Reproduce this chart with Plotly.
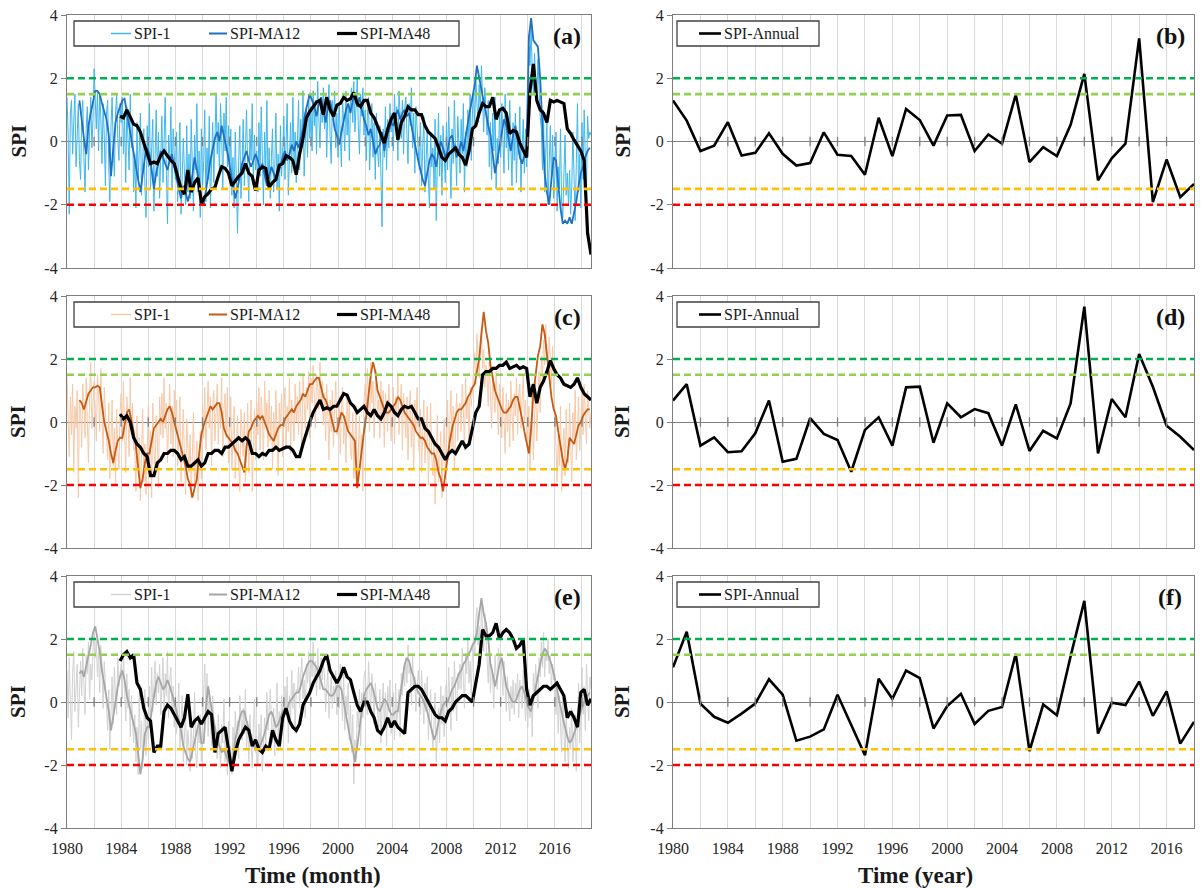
import pandas as pd
import plotly.graph_objects as go

# ---------------------------------------------------------------- data
years = list(range(1980, 2019))

# Annual SPI, one value per year 1980-2018
spi_annual_b = [1.30, 0.66, -0.30, -0.13, 0.61, -0.44, -0.36, 0.26, -0.39, -0.76,
                -0.68, 0.29, -0.42, -0.46, -1.05, 0.75, -0.46, 1.03, 0.68, -0.13,
                0.82, 0.84, -0.30, 0.22, -0.07, 1.48, -0.65, -0.18, -0.46, 0.53,
                2.14, -1.23, -0.53, -0.07, 3.26, -1.92, -0.57, -1.76, -1.34]
spi_annual_d = [0.68, 1.20, -0.75, -0.49, -0.96, -0.93, -0.36, 0.68, -1.26, -1.17,
                0.12, -0.38, -0.57, -1.58, -0.25, 0.15, -0.75, 1.10, 1.12, -0.66,
                0.59, 0.15, 0.41, 0.28, -0.75, 0.56, -0.92, -0.28, -0.52, 0.59,
                3.66, -1.00, 0.73, 0.15, 2.16, 1.12, -0.12, -0.47, -0.89]
spi_annual_f = [1.10, 2.23, -0.05, -0.47, -0.66, -0.37, -0.05, 0.72, 0.23, -1.23,
                -1.10, -0.87, 0.23, -0.74, -1.69, 0.74, 0.10, 1.00, 0.76, -0.84,
                -0.13, 0.26, -0.70, -0.28, -0.16, 1.53, -1.56, -0.08, -0.42, 1.45,
                3.21, -1.00, -0.02, -0.10, 0.65, -0.44, 0.34, -1.32, -0.63]

# Monthly SPI-1, Jan 1980 - Sep 2018 (one row per year)
spi1_a = [
    1.4, 0.2, -2.3, 0.9, 1.3, -0.4, 0.6, 1.5, -0.8, 0.3, 1.2, -0.6,
    -1.2, 0.8, 1.3, -0.5, -1.6, 0.4, 1.1, -0.9, 0.5, 1.4, -0.2, 0.7,
    2.3, 1.1, 0.4, 1.6, -0.3, 1.5, 0.8, -0.7, 1.2, 0.2, -1.4, 0.9,
    1.3, -0.8, -1.9, 0.5, 1.4, -0.2, -1.1, 0.9, 1.5, 0.1, -0.6, 1.2,
    0.6, 1.4, -0.4, 0.8, -1.3, 1.1, 0.3, -0.9, 1.5, -0.2, 0.7, -1.6,
    -0.4, -2.1, 0.6, -1.2, -0.3, 0.9, -1.7, -0.6, 0.4, -1.4, -2.4, 0.5,
    -0.8, 1.2, -1.5, -0.2, 0.7, -2.2, -0.4, 1.0, -1.1, 0.3, -1.8, -0.5,
    0.8, -1.3, -0.3, 1.4, -0.9, -2.6, 0.2, -0.7, 1.1, -1.5, 0.4, -0.6,
    -1.2, 0.3, -1.9, -0.8, 0.6, -2.3, -1.4, 0.1, -1.0, -2.0, 0.5, -1.6,
    -0.4, -1.8, 0.7, -1.1, -2.2, 0.2, -0.9, 1.2, -1.6, -0.3, -2.4, 0.4,
    -1.5, -0.6, 1.0, -1.9, -0.2, -1.2, 0.8, -2.1, -0.7, 0.6, -1.3, -0.1,
    1.5, -0.4, 0.6, -1.0, 1.2, 0.2, -1.5, 0.9, -0.3, 1.4, -0.8, 0.5,
    -1.1, 0.4, -1.7, -0.5, -2.1, 0.3, -1.2, -2.9, -0.6, 0.5, -1.8, -0.9,
    0.7, -1.4, -0.3, 1.0, -0.8, -1.9, 0.4, -0.6, 1.2, -1.3, 0.2, -0.9,
    -0.3, -1.6, 0.6, -1.1, 1.1, -0.7, -2.0, 0.3, -0.9, 1.3, -1.4, -0.2,
    -1.8, -0.5, 0.4, -1.6, -0.9, 0.9, -1.5, -0.4, -2.2, 0.5, -1.1, -0.3,
    0.8, -1.2, -0.2, 1.2, -1.7, -0.4, 0.6, -1.0, 1.4, -0.6, 0.3, -1.3,
    0.2, 1.3, -0.9, 0.7, -0.2, 1.6, -1.1, 0.4, 1.0, -0.5, 1.5, 0.1,
    1.1, -0.3, 1.6, 0.5, 1.3, -0.4, 1.9, 0.8, -0.2, 1.4, 0.6, 1.7,
    0.4, 1.5, -0.5, 1.0, 1.8, 0.2, -0.7, 1.3, 0.6, 1.6, -0.2, 0.9,
    -0.5, 1.2, 0.3, -0.8, 1.4, 0.7, -0.3, 1.6, 0.2, 1.1, -0.6, 1.3,
    1.7, 0.6, 1.9, 0.3, 1.2, 2.0, 0.5, -0.4, 1.5, 0.8, 1.7, 0.2,
    1.0, -0.6, 0.8, 1.4, -0.9, 0.3, 1.2, -0.5, 0.6, -1.2, 0.9, -0.3,
    -0.8, 0.5, -1.4, -2.7, 0.4, -0.5, 1.1, -0.9, 0.7, -0.2, 1.2, 0.3,
    0.9, -0.3, 1.5, 0.4, 1.1, -0.6, 1.6, 0.8, 0.1, 1.3, -0.4, 1.0,
    1.4, 0.2, -0.7, 1.2, 0.5, 1.7, -0.2, 0.9, -1.0, 1.1, 0.4, -0.5,
    -0.9, 0.6, -1.4, -0.2, 0.8, -1.6, -0.5, 0.4, -1.2, -2.1, 0.3, -0.8,
    -0.2, -1.5, 0.7, -2.5, -0.6, 0.9, -1.1, 0.2, -1.7, 0.5, -0.4, -1.3,
    0.6, -0.9, 1.1, -0.3, -1.8, 0.4, -0.7, 1.3, -0.2, -1.4, 0.8, -0.5,
    -1.0, 0.7, -0.4, 1.2, -1.6, 0.3, -0.8, 1.0, -0.1, 1.5, -0.6, 0.9,
    1.6, 0.4, 2.1, 1.2, 0.6, 1.8, 0.9, 2.4, 1.1, 0.3, 1.7, 0.8,
    0.2, 1.3, -0.8, 0.6, -1.2, 0.9, -0.3, 1.4, -1.5, 0.1, -0.7, 1.0,
    -0.5, 1.2, 0.4, -1.0, 1.5, -0.2, 0.8, -0.9, 1.3, 0.3, -1.4, 0.6,
    -0.6, 0.9, -1.3, 0.2, -0.4, 1.1, -1.6, -0.2, 0.7, -1.0, 0.4, -0.8,
    1.8, 3.0, 2.4, 3.6, 2.2, 1.5, 2.8, 2.0, 1.2, 2.6, 1.6, 0.8,
    0.4, -0.9, 1.0, -1.6, -0.3, 0.6, -2.0, -0.7, 0.5, -1.3, 0.2, -1.8,
    -1.1, 0.3, -2.2, -0.8, -1.5, 0.4, -1.9, -2.4, -0.6, 0.2, -1.7, -1.0,
    -2.0, -0.9, -2.3, -1.4, 0.3, -1.8, -2.5, -0.7, 1.2, -1.6, -0.4, -2.1,
    0.6, -1.2, 1.0, -0.5, -1.6, 0.8, 0.1, 0.3, 0.2,
]
# SPI-MA12, every second month from Dec 1980
ma12_a = [
    1.3,
    0.6, 0.1, -0.4, 0.5, 0.9, 1.2,
    1.6, 1.6, 1.5, 1.2, 0.9, 0.7,
    0.2, -1.1, -0.2, 0.6, 0.9, 1.1,
    1.3, 1.35, 0.9, 0.5, 0.1, -0.3,
    -0.8, -1.2, -1.6, -1.1, -0.5, -0.2,
    -0.4, -0.9, -1.5, -1.0, -0.6, -0.3,
    -0.5, -0.7, -0.9, -0.6, -0.4, -0.8,
    -1.2, -1.5, -1.8, -1.4, -1.6, -1.9,
    -1.6, -1.0, -0.5, -0.9, -1.4, -1.8,
    -2.0, -1.6, -1.1, -0.6, -0.2, 0.1,
    0.3, 0.0, 0.5, 0.2, -0.2, -0.5,
    -1.0, -1.4, -1.8, -1.5, -1.1, -0.7,
    -0.5, -0.3, -0.6, -0.8, -0.6, -0.4,
    -0.6, -0.9, -0.7, -1.0, -1.4, -1.1,
    -0.8, -1.0, -1.2, -1.0, -0.7, -0.5,
    -0.3, -0.6, -0.4, -0.1, -0.3, 0.0,
    -0.2, 0.1, 0.4, 0.9, 1.2, 1.5,
    1.3, 1.1, 0.8, 1.2, 1.4, 1.0,
    0.6, 1.1, 1.3, 0.9, 0.4, 0.2,
    -0.1, 0.3, 0.7, 1.0, 1.2, 0.9,
    1.3, 1.5, 1.1, 1.4, 1.0, 0.7,
    0.5, 0.2, 0.4, 0.0, -0.4, -0.2,
    -0.1, 0.3, -0.3, 0.1, 0.4, 0.6,
    0.5, 0.8, 1.0, 0.7, 0.9, 1.0,
    0.8, 0.9, 0.5, 0.1, -0.3, -0.6,
    -0.9, -1.2, -1.4, -1.0, -0.6, -0.4,
    -0.5, -0.8, -0.3, 0.0, -0.2, -0.5,
    -0.3, 0.1, 0.2, -0.2, -0.5, -0.3,
    0.0, -0.3, 0.2, 0.6, 1.0, 1.4,
    1.8, 2.4, 2.0, 1.6, 1.3, 0.9,
    0.5, 0.2, -0.4, -1.0, -0.6, -0.2,
    0.3, 0.7, 0.5, 0.1, -0.3, 0.2,
    0.5, 0.0, -0.5, -0.7, -0.4, -0.2,
    3.3, 3.9, 3.2, 3.1, 3.0, 2.0,
    0.5, -1.0, -1.6, -2.0, -1.2, -0.5,
    -0.6, -1.4, -2.1, -2.6, -2.5, -2.6,
    -2.4, -2.6, -2.3, -1.9, -1.4, -1.0,
    -0.8, -0.5, -0.3, -0.2,
]
# SPI-MA48, quarterly from Dec 1983
ma48_a = [
    0.8,
    0.75, 1.0, 0.8, 0.55,
    0.5, 0.3, -0.05, -0.4,
    -0.7, -0.65, -0.7, -0.45,
    -0.3, -0.45, -0.6, -0.7,
    -1.1, -1.5, -1.66, -0.9,
    -1.6, -1.3, -1.15, -1.95,
    -1.75, -1.65, -1.5, -1.45,
    -1.1, -0.8, -0.85, -1.0,
    -1.4, -1.25, -1.1, -1.0,
    -0.7, -1.0, -1.1, -1.55,
    -0.9, -0.8, -0.85, -1.45,
    -1.3, -1.2, -0.75, -0.7,
    -0.45, -0.5, -0.6, -1.05,
    -0.4, 0.1, 0.75, 0.95,
    1.1, 1.25, 1.3, 0.85,
    1.4, 1.0, 0.8, 1.15,
    1.2, 1.4, 1.3, 1.35,
    1.55, 1.2, 1.1, 1.3,
    1.3, 0.9, 0.75, 0.5,
    0.2, -0.05, 0.4, 0.7,
    0.9, 0.05, 0.6, 0.8,
    1.1, 1.0, 1.0, 0.85,
    0.85, 0.5, 0.3, 0.2,
    0.1, -0.2, -0.5, -0.6,
    -0.4, -0.3, -0.2, -0.4,
    -0.5, -0.75, -0.3, 0.4,
    0.5, 0.9, 1.2, 1.1,
    1.1, 1.4, 0.7, 1.0,
    1.05, 0.9, 0.25, 0.35,
    0.3, -0.05, -0.3, -0.5,
    1.6, 2.45, 1.3, 1.0,
    0.9, 0.6, 1.3, 1.25,
    1.3, 1.25, 1.2, 0.4,
    0.25, 0.05, -0.15, -0.3,
    -0.6, -2.9, -3.57,
]

spi1_c = [
    1.5, 0.2, -1.1, 0.8, -0.4, 1.2, -1.6, 0.5, -0.2, 1.0, -2.4, 0.7,
    0.3, -0.8, 1.2, 0.6, -0.5, 1.4, 0.2, -1.3, 0.9, 1.9, -0.2, 0.8,
    1.3, 0.4, -0.6, 1.5, 0.9, -0.3, 1.7, 0.2, -1.0, 1.1, 0.5, -0.4,
    -1.2, 0.6, -1.8, -0.5, 0.7, -1.4, -0.2, -2.0, 0.4, -0.9, -1.5, 0.3,
    0.9, -0.6, 1.3, -0.3, -1.6, 0.8, 0.1, -1.1, 1.4, -0.4, 0.6, -0.9,
    -0.8, -2.2, 0.2, -1.5, -0.5, -2.5, -1.0, 0.4, -1.9, -0.7, -2.3, -0.3,
    0.5, -1.2, -0.3, -2.4, 0.6, -0.9, -1.6, 0.2, -0.5, -2.1, 0.8, -0.4,
    0.9, -0.5, 1.4, -0.2, 0.6, -1.3, 0.3, 1.2, -0.7, 0.5, -1.1, 1.0,
    -0.3, 0.7, -1.4, -0.2, 0.8, -1.9, -0.6, 0.4, -1.2, -2.3, 0.1, -0.8,
    -1.6, -0.4, -2.4, -1.1, 0.3, -2.0, -1.5, -0.6, -2.5, -1.2, -0.3, -1.8,
    0.6, -0.5, 1.1, -0.9, 0.4, 1.3, -0.2, 0.8, -1.4, 0.5, 1.0, -0.6,
    0.3, 1.2, -0.7, 0.6, -0.2, 1.4, -1.1, 0.4, 0.9, -0.5, 1.1, -1.3,
    -0.4, 0.8, -1.5, -0.6, 0.5, -1.8, -0.9, 0.2, -1.3, -2.2, 0.4, -0.7,
    -1.1, 0.3, -1.9, -0.8, 0.6, -1.6, -0.3, 0.7, -2.2, -0.5, 0.4, -1.2,
    0.6, -0.4, 1.1, -0.9, 0.8, 0.2, -1.2, 1.3, -0.1, 0.6, -0.8, 1.0,
    -0.6, 0.5, -1.5, 0.3, -0.9, 1.0, -0.4, -1.7, 0.6, -0.2, 0.9, -1.1,
    0.4, 1.1, -0.8, 0.5, -0.3, 1.4, -1.0, 0.7, 0.2, -0.6, 1.2, 0.0,
    0.8, -0.4, 1.3, 0.3, -0.9, 1.5, 0.6, -0.2, 1.1, 0.4, 1.6, -0.5,
    1.4, 0.6, 1.8, 0.9, -0.2, 1.5, 1.1, 0.4, 1.9, 0.7, 1.3, -0.1,
    0.9, -0.6, 1.2, 0.3, -1.2, 0.7, -0.3, 1.0, -0.8, 0.5, 1.3, -0.4,
    -0.3, 0.8, -1.0, 0.4, 1.1, -0.7, 0.2, -1.3, 0.9, -0.2, 0.6, -0.9,
    -1.2, 0.3, -1.8, -0.6, 0.5, -2.1, -1.0, 0.2, -1.5, -0.4, -2.2, 0.6,
    1.2, 0.4, 1.7, 0.8, -0.3, 1.9, 0.6, 1.3, -0.5, 1.0, 1.6, 0.2,
    0.7, -0.5, 1.3, 0.2, 1.0, -0.8, 0.9, 0.4, -0.3, 1.2, 0.5, -0.6,
    0.4, 1.1, -0.7, 0.8, 0.2, 1.5, -0.4, 0.6, 1.2, -0.9, 0.9, 0.3,
    -0.5, 0.8, -1.2, 0.4, 1.0, -0.8, 0.3, -1.5, 0.7, -0.2, 1.1, -0.6,
    -1.0, 0.4, -1.6, -0.3, 0.7, -1.3, -0.6, 0.5, -2.0, -0.2, 0.6, -1.1,
    -1.7, -0.6, -2.6, -1.1, 0.2, -1.9, -1.4, -0.3, -2.4, -1.0, 0.1, -1.6,
    -0.4, 0.7, -1.2, 0.3, 1.0, -0.8, 0.5, -1.5, 0.2, 0.9, -0.6, 0.4,
    0.6, -0.3, 1.2, 0.4, -0.9, 1.4, 0.1, 0.8, -0.5, 1.1, 0.5, 1.3,
    1.6, 2.2, 1.2, 2.8, 1.9, 1.4, 2.5, 3.0, 1.7, 2.3, 1.1, 1.8,
    1.4, 0.5, 1.9, 0.8, -0.2, 1.5, 1.0, 0.3, 1.6, 0.7, -0.4, 1.2,
    0.6, -0.5, 1.1, 0.2, -1.0, 0.9, -0.3, 0.7, -0.8, 1.3, 0.1, -0.6,
    0.9, 0.2, 1.4, -0.4, 0.8, 1.2, -0.2, 0.6, 1.5, 0.0, 0.7, -0.5,
    -0.8, 0.5, -1.5, -0.3, 0.9, -1.2, 0.4, 1.3, -0.6, 0.8, 1.6, 0.3,
    2.1, 1.4, 2.6, 1.8, 3.1, 2.2, 1.5, 2.7, 1.9, 1.2, 2.4, 0.8,
    0.3, -0.8, -1.9, -0.4, -1.4, 0.5, -2.2, -1.0, -0.2, -1.7, 0.4, -0.9,
    -1.3, 0.6, -0.8, -1.9, 0.3, -0.5, 1.0, -1.2, -0.3, 0.8, -0.9, 0.4,
    0.9, -0.4, 1.2, 0.2, -0.7, 1.0, 0.5, -0.2, 0.3,
]
ma12_c = [
    0.7,
    0.6, 0.4, 0.7, 0.9, 1.0, 1.1,
    1.1, 1.15, 1.1, 0.5, 0.0, -0.3,
    -0.6, -1.0, -1.3, -0.9, -0.6, -0.5,
    -0.5, -0.1, 0.3, 0.4, 0.1, -0.3,
    -0.8, -1.4, -2.1, -1.8, -1.3, -1.0,
    -1.0, -0.6, -0.2, -0.1, 0.0, 0.1,
    0.0, 0.2, 0.4, 0.5, 0.3, 0.0,
    -0.3, -0.6, -0.9, -1.1, -1.4, -1.8,
    -2.0, -2.4, -2.1, -1.8, -1.0, -0.4,
    -0.1, 0.1, 0.3, 0.5, 0.4, 0.5,
    0.6, 0.6, 0.3, -0.2, -0.4, -0.5,
    -0.6, -0.7, -0.9, -1.0, -1.2, -1.4,
    -1.6, -0.8, -0.3, -0.2, 0.0, 0.1,
    0.2, 0.1, 0.2, 0.0, -0.2, -0.4,
    -0.5, -0.6, -0.4, -0.2, -0.1, -0.1,
    0.1, 0.2, 0.3, 0.4, 0.3, 0.5,
    0.6, 0.7, 0.9, 0.8, 1.0, 1.2,
    1.2, 1.3, 1.4, 1.4, 1.1, 0.8,
    0.7, 0.5, 0.3, 0.0, -0.3, -0.3,
    0.0, 0.3, 0.2, -0.1, -0.3, -0.4,
    -0.5, -0.6, -2.1, -1.5, -0.8, -0.3,
    0.2, 0.8, 1.5, 1.9, 1.6, 1.0,
    0.8, 0.6, 0.4, 0.3, 0.3, 0.4,
    0.5, 0.6, 0.8, 0.7, 0.5, 0.3,
    0.2, 0.1, 0.0, -0.1, -0.3, -0.4,
    -0.5, -0.5, -0.6, -0.8, -0.9, -1.0,
    -1.0, -1.2, -1.6, -1.8, -2.2, -1.6,
    -1.0, -0.6, -0.2, 0.1, 0.3, 0.4,
    0.4, 0.5, 0.6, 0.8, 0.9, 1.1,
    1.2, 1.6, 2.0, 2.8, 3.5, 2.9,
    2.5, 1.8, 1.4, 1.0, 0.8, 0.6,
    0.4, 0.3, 0.3, 0.4, 0.5, 0.7,
    0.8, 0.8, 0.5, 0.1, -0.3, -0.7,
    -1.0, -0.2, 0.9, 1.5, 2.1, 2.4,
    3.1, 2.8, 2.1, 1.4, 0.8, 0.4,
    0.2, -0.3, -0.8, -1.2, -1.5, -1.2,
    -0.5, -0.6, -0.7, -0.4, -0.1, 0.0,
    0.2, 0.3, 0.4, 0.4,
]
ma48_c = [
    0.25,
    0.1, 0.2, 0.0, -0.5,
    -0.7, -0.8, -1.0, -1.1,
    -1.7, -1.7, -1.3, -1.2,
    -1.0, -1.0, -0.9, -0.9,
    -1.0, -1.2, -1.1, -1.4,
    -1.4, -1.3, -1.2, -1.4,
    -1.3, -1.0, -1.0, -0.9,
    -0.9, -1.0, -0.8, -0.8,
    -0.7, -0.6, -0.5, -0.6,
    -0.5, -0.6, -1.0, -1.0,
    -1.1, -1.0, -1.05, -0.9,
    -0.9, -0.8, -0.9, -0.85,
    -0.8, -0.8, -0.9, -1.1,
    -1.1, -0.7, -0.3, 0.0,
    0.3, 0.5, 0.7, 0.4,
    0.45, 0.4, 0.5, 0.5,
    0.7, 0.9, 0.85, 0.6,
    0.5, 0.3, 0.4, 0.5,
    0.3, 0.2, 0.4, 0.2,
    0.1, 0.3, 0.6, 0.5,
    0.3, 0.2, 0.4, 0.5,
    0.45, 0.5, 0.3, 0.1,
    0.1, -0.2, -0.3, -0.5,
    -0.7, -0.8, -1.0, -1.2,
    -1.0, -0.9, -1.0, -0.8,
    -0.6, -0.8, -0.7, -0.2,
    0.3, 0.5, 1.5, 1.6,
    1.6, 1.7, 1.7, 1.8,
    1.8, 1.9, 1.7, 1.75,
    1.8, 1.7, 1.75, 1.7,
    0.8, 1.2, 0.6, 1.1,
    1.3, 1.6, 1.95, 1.7,
    1.5, 1.4, 1.2, 1.15,
    1.1, 1.2, 1.4, 1.1,
    0.9, 0.8, 0.7,
]

spi1_e = [
    1.0, -0.5, 1.4, 0.3, -1.2, 0.9, 1.6, -0.3, 0.8, 1.2, -0.8, 0.6,
    1.3, 0.2, 1.7, 0.6, -0.4, 1.5, 0.9, 1.9, 0.1, 1.2, 0.7, 1.6,
    2.2, 1.4, 2.0, 0.8, 1.6, 0.3, 1.8, 1.1, -0.2, 1.3, 0.6, -0.5,
    -0.9, 0.4, -1.5, -0.3, 0.8, -0.7, 1.1, 0.2, -0.4, 1.4, 0.5, 0.9,
    1.2, 0.1, 1.5, 0.6, -0.6, 0.9, -0.2, 0.4, -1.1, 0.2, -0.5, -1.3,
    -0.4, -1.9, -0.8, -2.3, 0.3, -1.5, -0.6, -2.1, -1.0, 0.4, -1.7, -0.5,
    -1.2, 0.5, -0.7, 1.1, -0.3, 0.8, 1.3, -0.1, 0.9, 0.3, 1.2, -0.4,
    0.6, 1.4, -0.3, 0.9, 0.2, 1.6, -0.5, 0.7, 1.1, -0.2, 0.5, -0.8,
    0.3, -1.0, -0.4, 0.6, -1.5, -0.7, 0.2, -1.9, -1.1, -0.3, -2.0, -0.9,
    -1.4, -2.2, -0.6, -1.8, -1.0, 0.3, -1.6, -2.1, -0.8, -1.3, -0.4, -1.9,
    -0.7, 0.6, 1.2, -0.3, 0.9, -1.1, 0.4, -0.6, -1.4, 0.2, -0.9, -1.6,
    -1.0, -1.8, -0.4, -1.5, -2.1, -0.7, -1.3, 0.1, -1.9, -1.1, -2.3, -0.6,
    -2.0, -1.4, -2.3, -0.8, -1.6, -0.3, -1.1, -0.6, -1.8, 0.2, -0.7, -1.2,
    -0.2, -1.0, 0.4, -1.5, -0.6, -1.9, -0.4, -1.2, -2.1, -0.8, 0.1, -1.6,
    -1.3, -2.0, -0.7, -1.6, -0.4, -2.2, -1.1, -0.5, -1.4, 0.3, -0.9, -0.2,
    0.4, -0.6, -1.3, -0.2, -1.7, -0.8, 0.6, -1.2, -0.3, -1.5, 0.2, -0.5,
    -0.9, 0.5, -0.4, 0.8, -1.3, 0.2, -0.6, 1.0, -0.2, 0.6, -1.0, 0.4,
    0.3, 1.1, -0.2, 0.9, 1.4, 0.1, 0.7, -0.5, 1.2, 0.6, 1.6, 0.2,
    1.5, 0.8, 1.9, 0.6, 1.3, 0.2, 1.7, 1.0, 0.4, 1.4, 0.7, 1.2,
    0.9, -0.3, 0.6, 1.1, -0.5, 0.4, 0.8, -0.2, 0.5, 0.0, 1.0, -0.4,
    0.7, -0.2, 1.2, 0.3, -0.6, 0.9, -0.9, 0.2, -0.4, 0.6, -1.2, -0.1,
    -1.6, -0.4, -2.6, -1.2, -1.9, -0.3, -0.8, 0.4, -1.4, 0.3, -0.5, 0.8,
    1.0, 0.2, -0.4, 1.3, 0.5, -0.3, 0.9, 0.3, -0.7, 0.6, 0.1, -0.5,
    -0.8, 0.4, -1.3, -0.2, 0.6, -0.9, 0.3, -1.4, 0.5, -0.3, 0.7, -1.0,
    -0.5, 0.3, -1.2, 0.6, -0.8, -0.2, 0.4, -1.1, 0.9, 0.2, 1.1, 0.5,
    1.4, 0.6, 1.8, 0.9, 1.2, -0.1, 1.5, 0.4, 0.8, -0.3, 0.6, 1.0,
    0.5, -0.4, 1.0, 0.2, -0.7, 0.6, -0.3, 0.8, -1.2, -0.2, 0.4, -0.9,
    -1.5, -0.6, 0.3, -1.9, -0.8, -0.2, -1.3, 0.5, -0.7, 0.2, -1.1, 0.4,
    0.6, -0.5, 1.1, 0.2, -0.9, 0.8, -0.3, 1.3, 0.1, -0.6, 0.9, 0.4,
    1.2, 0.4, 1.7, 0.8, -0.2, 1.5, 0.9, 2.0, 0.6, 1.3, 0.2, 1.6,
    2.1, 1.5, 2.6, 3.0, 1.8, 2.4, 1.2, 3.1, 2.2, 1.6, 2.8, 1.9,
    1.4, 0.6, 1.8, 0.3, 1.2, 0.7, -0.2, 1.5, 0.9, 0.4, 1.7, 1.1,
    1.6, 0.9, 0.2, 1.3, 0.6, -0.3, 0.8, 0.1, -0.6, 0.5, -0.2, 0.7,
    -0.4, 0.6, 0.1, 0.9, -0.5, 0.7, 0.3, -0.2, 1.0, 0.4, -0.6, 0.2,
    -0.8, 0.4, -0.5, 0.2, -1.1, 0.9, 0.3, 1.2, 0.6, -0.2, 1.4, 0.8,
    1.9, 1.1, 2.2, 0.8, 1.6, 1.3, 2.0, 0.9, 1.5, 0.4, 1.2, 0.7,
    0.9, -0.4, 0.5, -1.0, 0.2, -0.8, -1.6, 0.3, -0.7, -1.9, -0.3, -1.2,
    -2.1, -0.8, -1.5, -0.2, -1.9, -1.1, -0.4, -2.2, -0.9, 0.6, -1.3, 0.3,
    1.1, -0.4, 0.5, -0.9, 1.2, 0.3, -0.6, 0.8, 0.4,
]
ma12_e = [
    0.9,
    1.0, 0.8, 1.1, 1.4, 1.8, 2.2,
    2.4, 2.0, 1.6, 1.0, 0.6, 0.2,
    -0.3, -0.9, -0.5, 0.0, 0.5, 0.8,
    1.0, 0.7, 0.2, -0.1, -0.4, -0.7,
    -1.0, -1.6, -2.3, -1.8, -1.0, -0.8,
    -0.8, -0.3, 0.2, 0.6, 0.8, 0.6,
    0.4, 0.5, 0.7, 0.5, 0.2, 0.0,
    -0.3, -0.6, -0.9, -1.4, -1.6, -1.8,
    -1.9, -1.6, -1.3, -1.0, -0.6, -1.3,
    -1.3, -0.2, 0.5, 0.0, -0.4, -0.8,
    -1.2, -1.4, -1.6, -1.5, -1.7, -1.9,
    -2.0, -1.8, -1.2, -0.8, -0.5, -0.3,
    -0.3, -0.6, -0.9, -1.1, -1.3, -1.5,
    -1.5, -1.4, -1.2, -1.0, -0.7, -0.4,
    -0.3, -0.5, -0.8, -0.7, -0.5, -0.3,
    -0.2, -0.2, 0.0, 0.1, 0.2, 0.3,
    0.3, 0.5, 0.8, 1.0, 1.2, 1.3,
    1.3, 1.2, 1.1, 0.9, 0.6, 0.4,
    0.4, 0.3, 0.2, 0.2, 0.3, 0.5,
    0.5, 0.4, 0.0, -0.5, -0.8, -1.2,
    -1.5, -1.9, -1.4, -0.8, -0.3, 0.2,
    0.4, 0.5, 0.6, 0.4, 0.1, -0.2,
    -0.3, -0.1, 0.1, 0.0, -0.2, -0.4,
    -0.4, -0.3, -0.3, 0.2, 0.8, 1.2,
    1.4, 1.3, 1.0, 0.8, 0.5, 0.3,
    0.2, 0.1, -0.1, -0.3, -0.6, -0.9,
    -1.2, -1.0, -0.6, -0.3, -0.1, 0.0,
    0.0, 0.2, 0.4, 0.5, 0.7, 0.9,
    1.0, 1.2, 1.3, 1.5, 1.6, 1.8,
    1.9, 2.2, 2.8, 3.3, 2.8, 2.5,
    2.0, 1.2, 0.9, 0.5, 0.8, 1.2,
    1.4, 1.0, 0.5, 0.3, 0.1, 0.0,
    0.0, 0.2, 0.4, 0.5, 0.3, 0.0,
    -0.2, -0.3, 0.1, 0.5, 0.8, 1.2,
    1.5, 1.7, 1.6, 1.4, 1.2, 0.9,
    0.6, 0.2, -0.2, -0.5, -0.8, -1.1,
    -1.3, -1.2, -1.0, -0.8, -0.5, -0.3,
    -0.1, 0.1, 0.2, 0.3,
]
ma48_e = [
    1.3,
    1.5, 1.6, 1.4, 1.5,
    0.6, 0.4, -0.2, -0.5,
    -0.6, -1.6, -1.4, -1.4,
    -0.3, -0.1, -0.2, -0.4,
    -0.6, -0.8, -0.5, 0.25,
    -0.8, -0.6, -0.5, -0.7,
    -0.5, -0.3, -0.4, -1.6,
    -1.0, -0.9, -0.8, -1.5,
    -2.2, -1.6, -1.2, -1.0,
    -0.8, -0.9, -1.4, -1.2,
    -1.5, -1.6, -1.4, -1.5,
    -0.9, -1.2, -1.4, -0.5,
    -0.2, -0.6, -0.8, -0.9,
    -0.7, -0.1, 0.1, 0.3,
    0.6, 0.8, 1.0, 1.3,
    1.5, 1.0, 0.8, 0.6,
    0.8, 1.1, 0.8, 0.7,
    0.3, -0.1, -0.3, 0.0,
    0.0, -0.3, -0.5, -0.9,
    -1.0, -0.8, -0.5, -0.8,
    -0.6, -0.8, -0.9, -1.0,
    0.3, 0.4, 0.5, 0.5,
    0.4, 0.2, 0.0, -0.2,
    -0.4, -0.5, -0.5, -0.6,
    -0.3, -0.2, 0.0, 0.1,
    0.2, 0.2, 0.1, 0.0,
    0.6, 1.2, 2.3, 2.1,
    2.1, 2.2, 2.5, 2.0,
    2.2, 2.3, 2.2, 2.0,
    1.7, 1.8, 2.0, 0.4,
    -0.1, 0.2, 0.3, 0.4,
    0.5, 0.5, 0.4, 0.5,
    0.6, 0.4, 0.2, -0.5,
    -0.3, -0.5, -0.8, 0.3,
    0.4, -0.1, 0.1,
]

# Drought / wetness thresholds drawn as dashed reference lines
threshold_levels = [2.0, 1.5, -1.5, -2.0]
threshold_colors = ["#00B050", "#92D050", "#FFC000", "#FF0000"]

# ---------------------------------------------------------------- styling
W, H = 1203, 888
SERIF = "Liberation Serif"
TEXT = "#262626"
GRID = "#D9D9D9"
FRAME = "#7F7F7F"
TICKFONT = dict(family=SERIF, size=16, color=TEXT)

LEFT_X = (67, 591)       # plot area, pixels
RIGHT_X = (673, 1194)
ROWS = [(15, 268), (296, 548), (576, 828)]


def pxx(v):
    return v / W


def pxy(v):
    return 1 - v / H


def suffix(n):
    return "" if n == 1 else str(n)


fig = go.Figure()
shapes, annotations, axes = [], [], {}


def add_axes(n, xpix, row, monthly, labels):
    top, bot = ROWS[row]
    xa = dict(domain=[pxx(xpix[0]), pxx(xpix[1])], anchor="y" + suffix(n),
              automargin=False,
              showgrid=True, gridcolor=GRID, gridwidth=1,
              showline=True, mirror=True, linecolor=FRAME, linewidth=1.3,
              ticks="", showticklabels=labels, tickfont=TICKFONT,
              ticklabelstandoff=6, zeroline=False, fixedrange=True)
    if monthly:
        xa.update(type="date", range=["1980-01-01", "2018-09-01"],
                  tick0="1980-01-01", dtick="M48", tickformat="%Y",
                  minor=dict(tick0="1980-01-01", dtick="M24", showgrid=True,
                             gridcolor=GRID, gridwidth=1))
    else:
        xa.update(range=[1980, 2018], tick0=1980, dtick=4,
                  minor=dict(tick0=1980, dtick=2, showgrid=True,
                             gridcolor=GRID, gridwidth=1))
    ya = dict(domain=[pxy(bot), pxy(top)], anchor="x" + suffix(n),
              automargin=False,
              range=[-4, 4], tickvals=[-4, -2, 0, 2, 4],
              ticktext=["-4", "-2", "0", "2", "4"],
              showgrid=False, zeroline=True, zerolinecolor=FRAME, zerolinewidth=1.3,
              showline=True, mirror=True, linecolor=FRAME, linewidth=1.3,
              ticks="outside", ticklen=5, tickcolor=FRAME, tickwidth=1.3,
              tickfont=TICKFONT, fixedrange=True)
    axes["xaxis" + suffix(n)] = xa
    axes["yaxis" + suffix(n)] = ya

    xref = "x" + suffix(n)
    yref = "y" + suffix(n)
    # small tick marks where the time axis crosses SPI = 0
    for yr in range(1982, 2019, 2):
        if not monthly and yr >= 2018:
            continue
        xv = f"{yr}-01-01" if monthly else yr
        shapes.append(dict(type="line", xref=xref, yref=yref, x0=xv, x1=xv,
                           y0=-0.15, y1=0.15, line=dict(color=FRAME, width=1.3),
                           layer="above"))
    for lev, col in zip(threshold_levels, threshold_colors):
        shapes.append(dict(type="line", xref=xref + " domain", yref=yref,
                           x0=0, x1=1, y0=lev, y1=lev,
                           line=dict(color=col, width=2.7, dash="7px,4px"),
                           layer="above"))
    # y-axis title
    annotations.append(dict(text="<b>SPI</b>", textangle=-90, showarrow=False,
                            xref="paper", yref="paper",
                            x=pxx(18 if xpix[0] < 600 else 622), y=pxy((top + bot) / 2),
                            xanchor="center", yanchor="middle",
                            font=dict(family=SERIF, size=21, color="#1a1a1a")))


def add_tag(tag, xpix, row):
    top = ROWS[row][0]
    annotations.append(dict(text=f"<b>{tag}</b>", showarrow=False, xref="paper", yref="paper",
                            x=pxx(xpix[1] - 24), y=pxy(top + 21),
                            xanchor="center", yanchor="middle",
                            font=dict(family=SERIF, size=24, color="#111111")))


def add_key(xpix, row, entries, box, samples):
    left, top = xpix[0], ROWS[row][0]
    y0, y1 = top + 6, top + 31
    cy = (y0 + y1) / 2
    shapes.append(dict(type="rect", xref="paper", yref="paper",
                       x0=pxx(left + box[0]), x1=pxx(left + box[1]),
                       y0=pxy(y1), y1=pxy(y0), fillcolor="white",
                       line=dict(color="#404040", width=1.3), layer="above"))
    for (name, color, width), (s0, s1) in zip(entries, samples):
        shapes.append(dict(type="line", xref="paper", yref="paper",
                           x0=pxx(left + s0), x1=pxx(left + s1), y0=pxy(cy), y1=pxy(cy),
                           line=dict(color=color, width=width), layer="above"))
        annotations.append(dict(text=name, showarrow=False, xref="paper", yref="paper",
                                x=pxx(left + s1 + 1), y=pxy(cy),
                                xanchor="left", yanchor="middle",
                                font=dict(family=SERIF, size=16, color="#1a1a1a")))


monthly_panels = [
    ("(a)", 0, spi1_a, ma12_a, ma48_a, "#3DB7EE", "#1F6FC2"),
    ("(c)", 1, spi1_c, ma12_c, ma48_c, "#F8C9A8", "#C55A11"),
    ("(e)", 2, spi1_e, ma12_e, ma48_e, "#D2D2D2", "#A6A6A6"),
]
annual_panels = [
    ("(b)", 0, spi_annual_b),
    ("(d)", 1, spi_annual_d),
    ("(f)", 2, spi_annual_f),
]

for tag, row, s1, s12, s48, c1, c12 in monthly_panels:
    n = 2 * row + 1
    months = pd.date_range("1980-01-01", periods=len(s1), freq="MS")
    months12 = pd.date_range("1980-12-01", periods=len(s12), freq="2MS")
    months48 = pd.date_range("1983-12-01", periods=len(s48), freq="3MS")
    xr, yr_ = "x" + suffix(n), "y" + suffix(n)
    fig.add_trace(go.Scatter(x=months, y=s1, mode="lines", name="SPI-1",
                             line=dict(color=c1, width=1.0), xaxis=xr, yaxis=yr_))
    fig.add_trace(go.Scatter(x=months12, y=s12, mode="lines", name="SPI-MA12",
                             line=dict(color=c12, width=1.8), xaxis=xr, yaxis=yr_))
    fig.add_trace(go.Scatter(x=months48, y=s48, mode="lines", name="SPI-MA48",
                             line=dict(color="#000000", width=3.2), xaxis=xr, yaxis=yr_))
    add_axes(n, LEFT_X, row, True, row == 2)
    add_tag(tag, LEFT_X, row)
    add_key(LEFT_X, row,
            [("SPI-1", c1, 1.5), ("SPI-MA12", c12, 2), ("SPI-MA48", "#000000", 3.2)],
            (7, 392), [(44, 64), (142, 160), (270, 290)])

for tag, row, vals in annual_panels:
    n = 2 * row + 2
    xr, yr_ = "x" + suffix(n), "y" + suffix(n)
    fig.add_trace(go.Scatter(x=years, y=vals, mode="lines", name="SPI-Annual",
                             line=dict(color="#000000", width=2.6), xaxis=xr, yaxis=yr_))
    add_axes(n, RIGHT_X, row, False, row == 2)
    add_tag(tag, RIGHT_X, row)
    add_key(RIGHT_X, row, [("SPI-Annual", "#000000", 2.6)], (4, 146), [(26, 48)])

# x-axis titles
annotations.append(dict(text="<b>Time (month)</b>", showarrow=False, xref="paper", yref="paper",
                        x=pxx(313), y=pxy(875), xanchor="center", yanchor="middle",
                        font=dict(family=SERIF, size=23, color="#1a1a1a")))
annotations.append(dict(text="<b>Time (year)</b>", showarrow=False, xref="paper", yref="paper",
                        x=pxx(915), y=pxy(875), xanchor="center", yanchor="middle",
                        font=dict(family=SERIF, size=23, color="#1a1a1a")))

fig.update_layout(width=W, height=H, margin=dict(l=0, r=0, t=0, b=0, autoexpand=False),
                  paper_bgcolor="white", plot_bgcolor="white", showlegend=False,
                  font=dict(family=SERIF, color=TEXT),
                  shapes=shapes, annotations=annotations, **axes)

fig.write_html("out.html")
